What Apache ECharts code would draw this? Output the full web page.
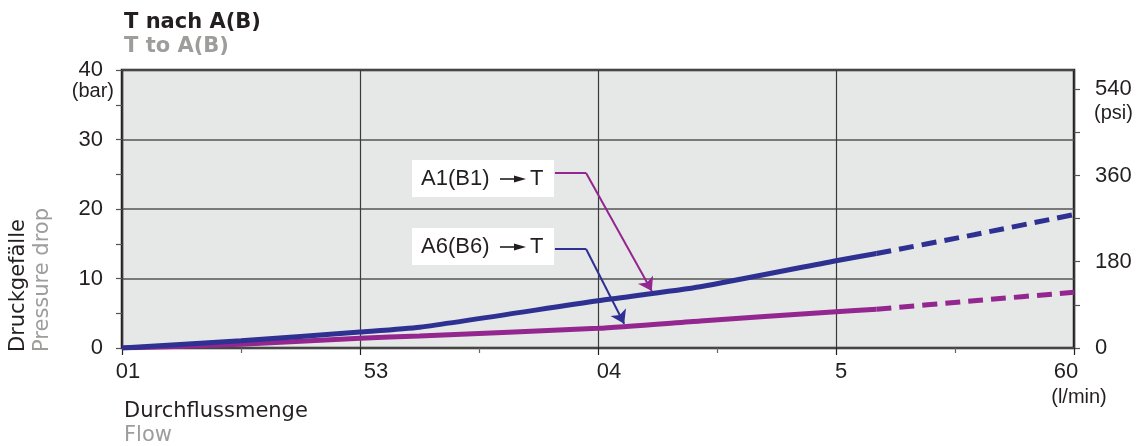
<!DOCTYPE html>
<html>
<head>
<meta charset="utf-8">
<script src="https://cdn.jsdelivr.net/npm/echarts@6/dist/echarts.min.js"></script>
<style>
  html, body { margin: 0; padding: 0; background: #fff; }
  #chart { width: 1146px; height: 446px; }
</style>
</head>
<body>
<div id="chart"></div>
<script>
// tick labels on the flow axis (as printed in the original)
const xTickLabels = ['01', '53', '04', '5', '60'];
const psiTicks = [0, 90, 180, 270, 360, 450, 540];
const psiLabels = [0, 180, 360, 540];

// flow positions (in tick units) where the solid curves were read
const flowSolid = [0, 0.5, 1, 1.25, 2, 2.43, 3, 3.17];
const flowDashed = [3.17, 3.58, 4];

// pressure drop (bar)
const a6Solid = [0, 1.05, 2.3, 2.98, 6.8, 8.82, 12.56, 13.6];
const a6Dashed = [13.6, 16.3, 19.2];
const a1Solid = [0, 0.53, 1.4, 1.73, 2.83, 3.88, 5.22, 5.57];
const a1Dashed = [5.57, 6.8, 8.01];

// leader lines of the annotation boxes (flow, bar)
const leaderA1 = [[1.819, 25.18], [1.95, 25.18], [2.226, 8.2]];
const leaderA6 = [[1.819, 14.24], [1.95, 14.24], [2.11, 3.5]];

const BAR_TO_PSI = 14.5038;
const blue = '#2e3192';
const purple = '#93278f';
const ink = '#231f20';
const grey = '#9d9d9c';
const sans = '"Liberation Sans", Arial';

const zip = (xs, ys) => xs.map((x, i) => [x, ys[i]]);

const myChart = echarts.init(document.getElementById('chart'), null, { renderer: 'canvas' });

// nudges so the flow labels sit where the original puts them
const labelRich = {
  s0: { padding: [0, 0, 0, 12] },
  s1: { padding: [0, 0, 0, 32] },
  s2: { padding: [0, 0, 0, 22] },
  s3: { padding: [0, 0, 0, 10] },
  s4: { padding: [0, 16, 0, 0] }
};

const txt = (x, y, text, font, fill, align, extra) => Object.assign({
  type: 'text',
  x, y,
  style: { text, font, fill, align: align || 'left', verticalAlign: 'middle' }
}, extra || {});

// white label box: "A1(B1) —► T"
const box = (x, y, name) => ({
  type: 'group',
  x, y,
  children: [
    { type: 'rect', shape: { x: 0, y: 0, width: 142, height: 37 }, style: { fill: '#fff' } },
    { type: 'text', x: 9, y: 19, style: { text: name, font: '22px ' + sans, fill: ink, verticalAlign: 'middle' } },
    { type: 'line', shape: { x1: 88, y1: 19, x2: 104, y2: 19 }, style: { stroke: ink, lineWidth: 1.6 } },
    { type: 'polygon', shape: { points: [[102, 15.5], [114, 19], [102, 22.5]] }, style: { fill: ink } },
    { type: 'text', x: 118, y: 19, style: { text: 'T', font: '22px ' + sans, fill: ink, verticalAlign: 'middle' } }
  ]
});

const leaderSeries = (pts, color) => [
  {
    type: 'lines', coordinateSystem: 'cartesian2d',
    symbol: ['none', 'none'],
    lineStyle: { color, width: 2, opacity: 1 },
    data: [{ coords: [pts[0], pts[1]] }], z: 6
  },
  {
    type: 'lines', coordinateSystem: 'cartesian2d',
    symbol: ['none', 'arrow'], symbolSize: 13,
    lineStyle: { color, width: 2, opacity: 1 },
    data: [{ coords: [pts[1], pts[2]] }], z: 6
  }
];

const option = {
  animation: false,
  grid: {
    left: 122, right: 72, top: 70, bottom: 98,
    show: true,
    backgroundColor: '#e6e7e7',
    borderColor: ink,
    borderWidth: 2.5
  },
  xAxis: {
    type: 'value',
    min: 0, max: 4, interval: 1,
    axisLine: { show: false },
    axisTick: { show: true, length: 7, lineStyle: { color: ink, width: 1.2 } },
    minorTick: { show: true, splitNumber: 2, length: 5, lineStyle: { color: '#666', width: 1.2 } },
    splitLine: { show: true, lineStyle: { color: '#3a3a3a', width: 1.2 } },
    axisLabel: {
      margin: 13,
      fontSize: 22,
      fontFamily: sans,
      color: ink,
      formatter: (v) => {
        const i = Math.round(v);
        return '{s' + i + '|' + xTickLabels[i] + '}';
      },
      rich: labelRich
    }
  },
  yAxis: [
    {
      type: 'value',
      min: 0, max: 40, interval: 10,
      position: 'left',
      axisLine: { show: false },
      axisTick: { show: true, length: 6, lineStyle: { color: '#555', width: 1.2 } },
      minorTick: { show: true, splitNumber: 2, length: 6, lineStyle: { color: '#555', width: 1.2 } },
      splitLine: { show: true, lineStyle: { color: '#555', width: 1.5 } },
      axisLabel: { margin: 19, fontSize: 22, fontFamily: sans, color: ink }
    },
    {
      type: 'value',
      min: 0, max: 40 * BAR_TO_PSI,
      position: 'right',
      axisLine: { show: false },
      axisTick: { show: true, length: 6, customValues: psiTicks, lineStyle: { color: '#555', width: 1.2 } },
      splitLine: { show: false },
      axisLabel: {
        margin: 21, fontSize: 22, fontFamily: sans, color: ink,
        customValues: psiLabels
      }
    }
  ],
  series: [
    {
      name: 'A6 solid', type: 'line', data: zip(flowSolid, a6Solid),
      smooth: 0.2, showSymbol: false, lineStyle: { color: blue, width: 5 }, z: 5
    },
    {
      name: 'A6 dashed', type: 'line', data: zip(flowDashed, a6Dashed),
      smooth: 0.2, showSymbol: false, lineStyle: { color: blue, width: 5, type: [15, 8] }, z: 5
    },
    {
      name: 'A1 solid', type: 'line', data: zip(flowSolid, a1Solid),
      smooth: 0.2, showSymbol: false, lineStyle: { color: purple, width: 5 }, z: 4
    },
    {
      name: 'A1 dashed', type: 'line', data: zip(flowDashed, a1Dashed),
      smooth: 0.2, showSymbol: false, lineStyle: { color: purple, width: 5, type: [15, 8] }, z: 4
    },
    ...leaderSeries(leaderA1, purple),
    ...leaderSeries(leaderA6, blue)
  ],
  graphic: [
    txt(124, 23, 'T nach A(B)', 'bold 21px "DejaVu Sans"', ink),
    txt(124, 47, 'T to A(B)', 'bold 21px "DejaVu Sans"', grey),
    txt(114, 91, '(bar)', '20px ' + sans, ink, 'right'),
    txt(1094, 113, '(psi)', '20px ' + sans, ink),
    txt(1079, 397, '(l/min)', '20px ' + sans, ink, 'center'),
    txt(124, 412, 'Durchflussmenge', '21px "DejaVu Sans"', ink),
    txt(124, 436, 'Flow', '21px "DejaVu Sans"', grey),
    txt(19, 352, 'Druckgefälle', '21px "DejaVu Sans"', ink, 'left', { rotation: Math.PI / 2 }),
    txt(43, 352, 'Pressure drop', '21px "DejaVu Sans"', grey, 'left', { rotation: Math.PI / 2 }),
    box(412, 160, 'A1(B1)'),
    box(412, 228, 'A6(B6)')
  ]
};

myChart.setOption(option);
</script>
</body>
</html>
